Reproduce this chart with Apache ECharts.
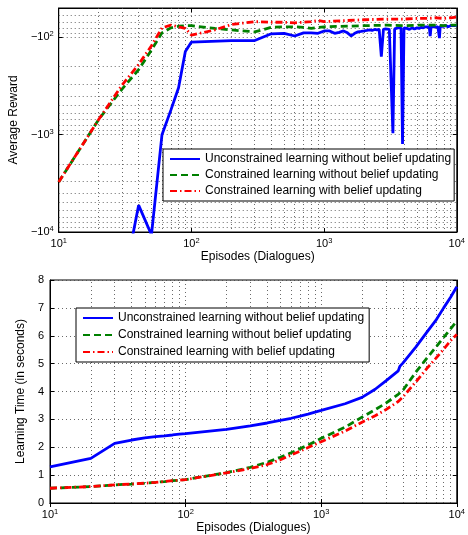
<!DOCTYPE html>
<html><head><meta charset="utf-8">
<script src="https://cdn.jsdelivr.net/npm/echarts@6/dist/echarts.min.js"></script>
<style>html,body{margin:0;padding:0;background:#fff}#c{width:468px;height:535px}</style>
</head><body><div id="c"></div>
<script>
const seriesNames = ['Unconstrained learning without belief updating','Constrained learning without belief updating','Constrained learning with belief updating'];

// Top chart: average reward (negative)
const rewardBlueX = [10,20,30,40,50,60,70,80,90,100,200,300,400,500,600,700,800,900,
 1000,1100,1200,1300,1400,1500,1600,1700,1800,1900,2000,2100,2200,2300,2400,2500,2600,2700,2800,2900,3000,3100,3200,3300,3400,3500,3600,3700,3800,3900,4000,
 4200,4400,4600,4800,5000,5200,5400,5600,5800,6000,6200,6300,6400,6600,6800,7000,7200,7300,7400,7500,7700,8000,8300,8600,9000,9300,9600,10000];
const rewardBlue = [-60000,-50000,-40000,-5300,-10700,-1000,-560,-330,-140,-112,-108,-108,-92,-91,-97,-90,-90,-91,
 -86,-86,-91,-89,-86,-90,-97,-91,-88,-87,-86,-85,-84,-85,-83,-84,-83,-158,-83,-82,-82,-83,-82,-968,-82,-81,-80,-81,-80,-1250,-80,
 -81,-83,-80,-82,-80,-81,-79,-80,-78,-79,-78,-97,-78,-77,-78,-77,-78,-77,-102,-77,-76,-77,-76,-78,-76,-77,-76,-75];
const rewardX = [10,20,30,40,50,60,70,80,90,100,150,200,300,400,500,600,700,800,900,1000,2000,3000,4000,5000,6000,7000,8000,9000,10000];
const rewardGreen = [-3060,-700,-340,-215,-135,-90,-80,-77,-76,-76,-81,-84,-88,-79,-78,-78,-79,-81,-79,-78,-76,-75,-76,-75,-75,-75,-76,-75,-75];
const rewardRed = [-3060,-700,-310,-190,-122,-80,-75,-78,-81,-95,-84,-74,-69,-70,-70,-71,-70,-69,-67,-69,-66,-65,-65,-64,-64,-63,-64,-63,-62];

// Bottom chart: learning time (s)
const timeX = [10,20,30,40,50,60,70,80,90,100,200,300,400,500,600,700,800,900,1000,1500,2000,2500,3000,3700,3800,4000,5000,6000,7000,8000,9000,10000];
const timeBlue = [1.30,1.60,2.14,2.26,2.34,2.38,2.41,2.44,2.47,2.49,2.64,2.77,2.87,2.96,3.04,3.12,3.19,3.26,3.32,3.56,3.79,4.08,4.38,4.74,4.90,5.02,5.60,6.12,6.55,7.00,7.38,7.76];
const timeGreen = [0.53,0.59,0.65,0.68,0.71,0.74,0.77,0.80,0.82,0.84,1.09,1.28,1.46,1.64,1.80,1.95,2.08,2.20,2.32,2.72,3.08,3.35,3.58,3.90,3.95,4.04,4.70,5.19,5.59,5.94,6.25,6.52];
const timeRed = [0.53,0.59,0.65,0.68,0.71,0.74,0.77,0.80,0.82,0.84,1.08,1.24,1.38,1.55,1.72,1.86,1.99,2.10,2.20,2.58,2.90,3.13,3.35,3.64,3.69,3.80,4.35,4.82,5.19,5.52,5.82,6.05];

// Minor grid positions
const xMinor = [20,30,40,50,60,70,80,90,200,300,400,500,600,700,800,900,2000,3000,4000,5000,6000,7000,8000,9000];
const yRewardMinor = [60,70,80,90,200,300,400,500,600,700,800,900,2000,3000,4000,5000,6000,7000,8000,9000];

const FONT = 'Liberation Sans, Arial, Helvetica, sans-serif';
const STYLES = [
  {color:'#0000ff', width:2.8, type:'solid'},
  {color:'#008000', width:2.8, type:[7,4]},
  {color:'#ff0000', width:2.8, type:[7,3,1.5,3]}
];
const isPow10 = v => Math.abs(Math.log10(v) - Math.round(Math.log10(v))) < 1e-6;
const rich = {s:{fontSize:7.5, fontFamily:FONT, color:'#000', padding:[0,0,6,0]}, b:{fontSize:11, fontFamily:FONT, color:'#000'}};
const gridDot = {color:'#444', type:[1,3], width:0.8};

function xAxisMain(grid, nameGap){
  return {type:'log', gridIndex:grid, min:10, max:10000, logBase:10, splitNumber:3,
    name:'Episodes (Dialogues)', nameLocation:'middle', nameGap:nameGap,
    nameTextStyle:{fontSize:12, color:'#000', fontFamily:FONT},
    axisLine:{lineStyle:{color:'#000', width:1}},
    axisTick:{inside:true, length:4, lineStyle:{color:'#000'}},
    axisLabel:{margin:5, fontSize:11, color:'#000', fontFamily:FONT, rich:rich,
      formatter: v => isPow10(v) ? '{b|10}{s|' + Math.round(Math.log10(v)) + '}' : ''},
    splitLine:{show:true, lineStyle:gridDot}};
}
function xAxisTop(grid){
  return {type:'log', gridIndex:grid, position:'top', min:10, max:10000, splitNumber:3,
    axisLine:{lineStyle:{color:'#000'}}, axisTick:{inside:true, length:4, lineStyle:{color:'#000'}},
    axisLabel:{show:false}, splitLine:{show:false}};
}
const legendCommon = {data:seriesNames, orient:'vertical', itemWidth:30, itemHeight:12,
  borderColor:'#000', borderWidth:1, backgroundColor:'#fff', itemStyle:{opacity:0},
  textStyle:{fontSize:12, color:'#000', fontFamily:FONT}, selectedMode:false, z:20};

const option = {
  animation:false,
  backgroundColor:'#fff',
  textStyle:{fontFamily:FONT},
  grid:[
    {left:50, top:8, right:5, height:224, show:true, borderColor:'#000', borderWidth:1, backgroundColor:'transparent'},
    {left:50, top:280, right:5, height:225, show:true, borderColor:'#000', borderWidth:1, backgroundColor:'transparent'}
  ],
  xAxis:[ xAxisMain(0, 19), xAxisTop(0), xAxisMain(1, 19), xAxisTop(1) ],
  yAxis:[
    {type:'log', gridIndex:0, min:50, max:10000, inverse:true,
      name:'Average Reward', nameLocation:'middle', nameGap:30,
      nameTextStyle:{fontSize:12, color:'#000', fontFamily:FONT},
      axisLine:{lineStyle:{color:'#000'}}, axisTick:{inside:true, length:4, lineStyle:{color:'#000'}},
      axisLabel:{margin:5, fontSize:11, color:'#000', fontFamily:FONT, rich:rich,
        formatter: v => isPow10(v) ? '{b|\u221210}{s|' + Math.round(Math.log10(v)) + '}' : ''},
      splitLine:{show:true, lineStyle:gridDot}},
    {type:'log', gridIndex:0, position:'right', min:50, max:10000, inverse:true,
      axisLine:{lineStyle:{color:'#000'}}, axisTick:{inside:true, length:4, lineStyle:{color:'#000'}},
      axisLabel:{show:false}, splitLine:{show:false}},
    {type:'value', gridIndex:1, min:0, max:8, interval:1,
      name:'Learning Time (in seconds)', nameLocation:'middle', nameGap:13,
      nameTextStyle:{fontSize:12, color:'#000', fontFamily:FONT},
      axisLine:{lineStyle:{color:'#000'}}, axisTick:{inside:true, length:4, lineStyle:{color:'#000'}},
      axisLabel:{margin:6, fontSize:11, color:'#000', fontFamily:FONT},
      splitLine:{show:true, lineStyle:gridDot}},
    {type:'value', gridIndex:1, position:'right', min:0, max:8, interval:1,
      axisLine:{lineStyle:{color:'#000'}}, axisTick:{inside:true, length:4, lineStyle:{color:'#000'}},
      axisLabel:{show:false}, splitLine:{show:false}}
  ],
  legend:[
    Object.assign({}, legendCommon, {left:163, top:149, itemGap:4, padding:[4,3,4,6]}),
    Object.assign({}, legendCommon, {left:76, top:308, itemGap:5, padding:[4,5,4,6]})
  ],
  series:[]
};

// minor grid lines
option.series.push({type:'line', xAxisIndex:0, yAxisIndex:0, data:[], silent:true, z:1,
  markLine:{silent:true, symbol:['none','none'], label:{show:false}, lineStyle:gridDot, animation:false,
    data: xMinor.map(v => ({xAxis:v})).concat(yRewardMinor.map(v => ({yAxis:v})))}});
option.series.push({type:'line', xAxisIndex:2, yAxisIndex:2, data:[], silent:true, z:1,
  markLine:{silent:true, symbol:['none','none'], label:{show:false}, lineStyle:gridDot, animation:false,
    data: xMinor.map(v => ({xAxis:v}))}});

const zip = (xs, ys, f) => xs.map((x, i) => [x, f ? f(ys[i]) : ys[i]]);
const topData = [zip(rewardBlueX, rewardBlue, v => -v), zip(rewardX, rewardGreen, v => -v), zip(rewardX, rewardRed, v => -v)];
const botData = [zip(timeX, timeBlue), zip(timeX, timeGreen), zip(timeX, timeRed)];
for (let i = 0; i < 3; i++) {
  option.series.push({name:seriesNames[i], type:'line', xAxisIndex:0, yAxisIndex:0, data:topData[i],
    symbol:'none', showSymbol:false, clip:true, z:5+i, lineStyle:STYLES[i], itemStyle:{color:STYLES[i].color}});
}
for (let i = 0; i < 3; i++) {
  option.series.push({name:seriesNames[i], type:'line', xAxisIndex:2, yAxisIndex:2, data:botData[i],
    symbol:'none', showSymbol:false, clip:true, z:5+i, lineStyle:STYLES[i], itemStyle:{color:STYLES[i].color}});
}

const chart = echarts.init(document.getElementById('c'), null, {renderer:'canvas'});
chart.setOption(option);
</script>
</body></html>
